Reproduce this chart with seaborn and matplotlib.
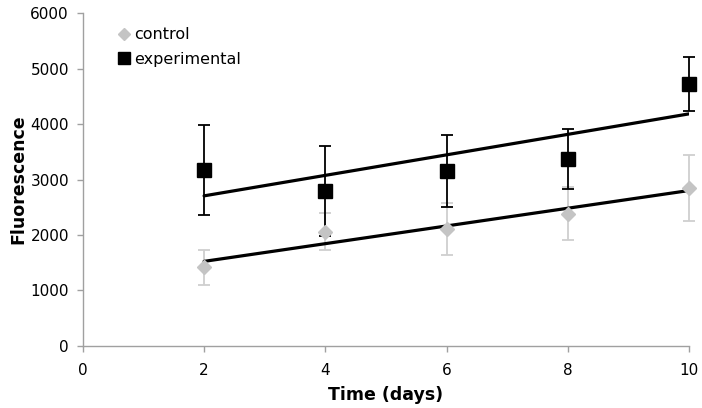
import numpy as np
import pandas as pd
import matplotlib
matplotlib.use('Agg')
import matplotlib.pyplot as plt
import seaborn as sns

# values
days = [2, 4, 6, 8, 10]
control = [1415, 2062, 2107, 2380, 2852]
control_err = [322, 335, 465, 478, 595]
experimental = [3170, 2795, 3155, 3375, 4727]
experimental_err = [808, 818, 644, 538, 490]

sns.set_style('white')
plt.rcParams['font.family'] = ['DejaVu Sans']
plt.rcParams['text.color'] = 'black'
plt.rcParams['axes.labelcolor'] = 'black'
plt.rcParams['xtick.color'] = 'black'
plt.rcParams['ytick.color'] = 'black'

fig = plt.figure(figsize=(7.02, 4.08), dpi=100)
ax = fig.add_axes([0.118, 0.152, 0.8635, 0.816])

grey = '#c4c4c4'

# error bars
for y, err, c in [(control, control_err, '#cfcfcf'), (experimental, experimental_err, 'black')]:
    eb = ax.errorbar(days, y, yerr=err, fmt='none', ecolor=c,
                     elinewidth=1.3, capsize=4.5, capthick=1.3, zorder=1)
    for art in eb.lines[1] + eb.lines[2]:
        art.set_clip_on(False)

# markers
ax.plot(days, control, linestyle='none', marker='D', markersize=7,
        color=grey, markeredgecolor=grey, label='control', zorder=3, clip_on=False)
ax.plot(days, experimental, linestyle='none', marker='s', markersize=9.5,
        color='black', label='experimental', zorder=3, clip_on=False)

# linear trend lines
df = pd.DataFrame({'day': days, 'control': control, 'experimental': experimental})
sns.regplot(data=df, x='day', y='control', scatter=False, ci=None, ax=ax,
            line_kws={'color': 'black', 'linewidth': 2.3, 'zorder': 2})
sns.regplot(data=df, x='day', y='experimental', scatter=False, ci=None, ax=ax,
            line_kws={'color': 'black', 'linewidth': 2.3, 'zorder': 2})

ax.set_xlim(0, 10)
ax.set_ylim(0, 6000)
ax.set_xticks(range(0, 11, 2))
ax.set_yticks(range(0, 6001, 1000))
ax.set_xlabel('Time (days)', fontsize=12.5, fontweight='bold', labelpad=6)
ax.set_ylabel('Fluorescence', fontsize=12.5, fontweight='bold')
ax.yaxis.set_label_coords(-0.092, 0.5)

for side in ['top', 'right']:
    ax.spines[side].set_visible(False)
for side in ['left', 'bottom']:
    ax.spines[side].set_color('#a0a0a0')
    ax.spines[side].set_linewidth(1)
ax.tick_params(axis='both', which='major', direction='out', length=4, width=1,
               color='#a0a0a0', labelcolor='black', labelsize=11, bottom=True, left=True)
ax.tick_params(axis='x', pad=8)
ax.tick_params(axis='y', pad=6)

ax.legend(loc='upper left', bbox_to_anchor=(0.033, 1.0), frameon=False, fontsize=11.5,
          handletextpad=0.15, handlelength=0.9, labelspacing=0.6, markerscale=0.85)

fig.savefig('out.png', dpi=100)
